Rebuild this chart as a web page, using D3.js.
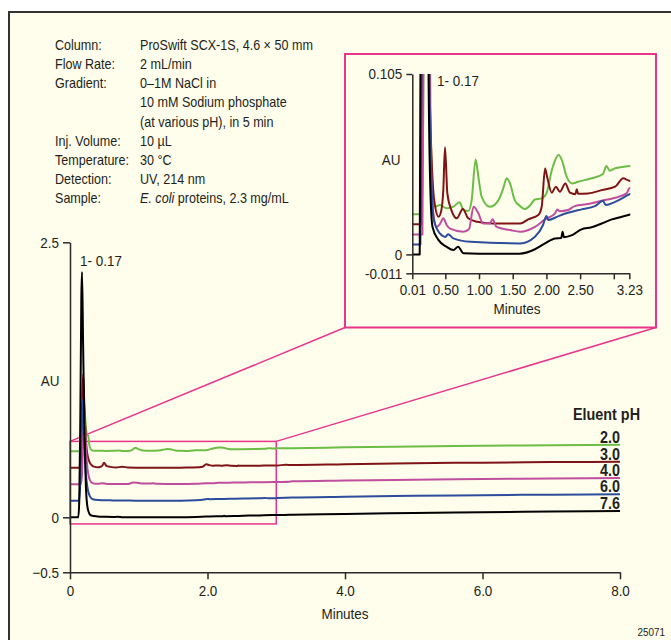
<!DOCTYPE html>
<html>
<head>
<meta charset="utf-8">
<script src="https://cdn.jsdelivr.net/npm/d3@7"></script>
<style>
  html, body { margin: 0; padding: 0; background: #ffffff; }
  svg { display: block; }
  text { font-family: "Liberation Sans", Arial, sans-serif; fill: #231f20; }
</style>
</head>
<body>
<svg id="chart" width="671" height="640"></svg>
<script>
// ---------------- DATA ----------------
const phLabels = ["2.0", "3.0", "4.0", "6.0", "7.6"];
const mainOffsets = [0.6, 0.45, 0.3, 0.15, 0];
const insetOffsets = [0.0233, 0.0175, 0.0116, 0.0057, 0];

// raw traces [minutes, AU] (before stacking offset)
const ph20 = [[0,0],[0.15,0],[0.17,0.05],[0.19,0.2],[0.21,0.38],[0.23,0.22],[0.25,0.15],[0.265,0.14],[0.28,0.06],[0.3,0.02],[0.32,0.008],[0.35,0.0044],[0.42,0.0054],[0.52,0.0035],[0.62,0.0045],[0.71,0.007],[0.77,0.0025],[0.84,0.002],[0.89,0.008],[0.95,0.032],[0.99,0.0219],[1.04,0.0102],[1.16,0.0044],[1.29,0.0083],[1.36,0.0151],[1.41,0.021],[1.46,0.018],[1.53,0.0083],[1.61,0.0048],[1.68,0.0031],[1.76,0.0054],[1.83,0.0087],[1.93,0.0093],[2.0,0.0122],[2.08,0.0257],[2.13,0.0316],[2.18,0.0345],[2.23,0.0316],[2.3,0.0219],[2.38,0.018],[2.47,0.019],[2.67,0.021],[2.84,0.0235],[2.89,0.0281],[2.94,0.0254],[3.02,0.0268],[3.23,0.0281],[4,0.036],[5,0.044],[6,0.05],[7,0.055],[8,0.059]];
const ph30 = [[0,0],[0.145,0],[0.16,0.1],[0.175,0.5],[0.19,0.85],[0.21,0.55],[0.235,0.22],[0.26,0.1],[0.29,0.045],[0.32,0.02],[0.35,0.0102],[0.40,0.0044],[0.44,0.008],[0.47,0.02],[0.495,0.0448],[0.53,0.018],[0.59,0.0083],[0.67,0.0035],[0.76,0.0089],[0.84,0.0035],[0.97,0.0015],[1.21,0.0005],[1.61,0.0005],[1.73,0.0029],[1.88,0.0054],[1.93,0.0102],[1.98,0.0325],[2.01,0.0277],[2.08,0.0184],[2.14,0.0219],[2.2,0.019],[2.28,0.0238],[2.35,0.0184],[2.43,0.0175],[2.45,0.0204],[2.47,0.0178],[2.62,0.018],[2.82,0.0199],[3.02,0.0219],[3.14,0.0268],[3.23,0.0254],[4,0.033],[5,0.041],[6,0.047],[7,0.052],[8,0.055]];
const ph40 = [[0,0],[0.16,0],[0.175,0.1],[0.19,0.45],[0.205,0.75],[0.22,0.5],[0.245,0.2],[0.27,0.08],[0.3,0.025],[0.33,0.01],[0.37,0.0044],[0.42,0.006],[0.47,0.0094],[0.52,0.0055],[0.57,0.0034],[0.77,0.0016],[0.85,0.003],[0.92,0.0161],[0.99,0.0123],[1.06,0.0064],[1.16,0.0064],[1.2,0.0088],[1.26,0.0044],[1.46,0.0026],[1.61,0.0016],[1.83,0.0044],[1.98,0.0088],[2.13,0.0123],[2.16,0.0146],[2.2,0.0135],[2.32,0.0142],[2.42,0.0165],[2.62,0.0177],[2.82,0.0196],[3.02,0.0214],[3.19,0.0239],[3.23,0.0268],[4,0.034],[5,0.042],[6,0.048],[7,0.053],[8,0.057]];
const ph60 = [[0,0],[0.13,0],[0.145,0.1],[0.16,0.5],[0.18,0.92],[0.2,0.6],[0.23,0.25],[0.26,0.1],[0.29,0.04],[0.33,0.0143],[0.42,0.0065],[0.5,0.0045],[0.54,0.006],[0.62,0.0036],[0.87,0.0016],[1.61,0.0007],[1.83,0.0046],[1.95,0.0114],[2.0,0.0166],[2.03,0.0143],[2.18,0.0166],[2.32,0.0185],[2.52,0.0205],[2.72,0.0224],[2.84,0.0255],[2.88,0.023],[3.02,0.0249],[3.23,0.0292],[4,0.037],[5,0.045],[6,0.051],[7,0.056],[8,0.06]];
const ph76 = [[0,0],[0.12,0],[0.135,0.15],[0.15,0.9],[0.165,2.0],[0.175,2.23],[0.19,1.6],[0.21,0.8],[0.23,0.3],[0.25,0.11],[0.28,0.035],[0.31,0.016],[0.40,0.0083],[0.52,0.0044],[0.62,0.0025],[0.69,0.0045],[0.77,0.0006],[1.0,0.0004],[1.6,0.0004],[1.83,0.003],[1.98,0.0064],[2.13,0.0093],[2.22,0.0095],[2.24,0.0132],[2.26,0.0100],[2.38,0.0112],[2.52,0.0146],[2.67,0.0158],[2.82,0.018],[2.97,0.0204],[3.12,0.0219],[3.23,0.0231],[4,0.031],[5,0.039],[6,0.046],[7,0.052],[8,0.057]];
const seriesData = [ph20, ph30, ph40, ph60, ph76];

const mainXTicks = [0, 2, 4, 6, 8];
const mainXTickLabels = ["0", "2.0", "4.0", "6.0", "8.0"];
const mainYTicks = [2.5, 0, -0.5];
const mainYTickLabels = ["2.5", "0", "\u22120.5"];
const insetXTicks = [0.01, 0.5, 1, 1.5, 2, 2.5, 3, 3.23];
const insetXTickLabels = ["0.01", "0.50", "1.00", "1.50", "2.00", "2.50", "", "3.23"];
const insetYTicks = [0.105, 0, -0.011];
const insetYTickLabels = ["0.105", "0", "-0.011"];
const zoomBox = { t0: 0, t1: 3.0, y0: -0.06, y1: 0.69 };

const conditionLabels = ["Column:", "Flow Rate:", "Gradient:", "", "", "Inj. Volume:", "Temperature:", "Detection:", "Sample:"];
const conditionValues = ["ProSwift SCX-1S, 4.6 \u00d7 50 mm", "2 mL/min", "0\u20131M NaCl in", "10 mM Sodium phosphate", "(at various pH), in 5 min", "10 \u00b5L", "30 \u00b0C", "UV, 214 nm", "E. coli|proteins,  2.3 mg/mL"];

// ---------------- STYLE ----------------
const colors = ["#6cbd45", "#7f1418", "#bf4f9e", "#2d4c9c", "#000000"];
const pink = "#e8358c";
const axisColor = "#2b2b2b";
const bg = "#fffdeb";

const svg = d3.select("#chart");

// condensed factor: fit reference width of the first condition line (≈173px at 14px)
const probe = svg.append("text").attr("font-size", 14).text(conditionValues[0]);
const K = Math.min(1, 173 / probe.node().getComputedTextLength());
probe.remove();

function label(parent, x, y, str, size, anchor, weight) {
  return parent.append("text")
    .attr("transform", `translate(${x},${y}) scale(${K},1)`)
    .attr("font-size", size).attr("text-anchor", anchor || "start")
    .attr("font-weight", weight || "normal").text(str);
}
function condenseAxis(g, size) {
  g.selectAll("path,line").attr("stroke", axisColor).attr("stroke-width", 1.5);
  g.selectAll("text").each(function () {
    const t = d3.select(this);
    const x = +t.attr("x") || 0;
    t.attr("x", x / K).attr("transform", `scale(${K},1)`);
  }).attr("font-size", size).attr("font-family", null).style("fill", "#231f20");
}

// background panel with border
svg.append("rect").attr("x", 9).attr("y", 12).attr("width", 662).attr("height", 628).attr("fill", bg);
svg.append("path").attr("d", "M9,640 V12 H671").attr("fill", "none").attr("stroke", "#333").attr("stroke-width", 2);

// ---------------- CONDITIONS TEXT ----------------
const cond = svg.append("g");
conditionLabels.forEach((l, i) => {
  const y = 50 + i * 19.15;
  label(cond, 55, y, l, 14);
  const v = conditionValues[i];
  if (v.includes("|")) {
    const [a, b] = v.split("|");
    const t = label(cond, 140, y, "", 14);
    t.append("tspan").attr("font-style", "italic").text(a);
    t.append("tspan").text(" " + b);
  } else label(cond, 140, y, v, 14);
});

// ---------------- MAIN CHART ----------------
const mx = d3.scaleLinear().domain([0, 8]).range([70, 620]);
const my = d3.scaleLinear().domain([-0.5, 2.5]).range([572.3, 242.3]);

// zoom box
svg.append("rect")
  .attr("x", mx(zoomBox.t0)).attr("y", my(zoomBox.y1))
  .attr("width", mx(zoomBox.t1) - mx(zoomBox.t0))
  .attr("height", my(zoomBox.y0) - my(zoomBox.y1))
  .attr("fill", "none").attr("stroke", pink).attr("stroke-width", 1.5);

// inset frame geometry
const inset = { x: 345, y: 54, w: 311, h: 273.5 };
svg.append("line").attr("x1", mx(zoomBox.t0)).attr("y1", my(zoomBox.y1))
  .attr("x2", inset.x).attr("y2", inset.y + inset.h).attr("stroke", pink).attr("stroke-width", 1.5);
svg.append("line").attr("x1", mx(zoomBox.t1)).attr("y1", my(zoomBox.y1))
  .attr("x2", inset.x + inset.w).attr("y2", inset.y + inset.h).attr("stroke", pink).attr("stroke-width", 1.5);

const mainLine = (off) => d3.line().x(d => mx(d[0])).y(d => my(d[1] + off)).curve(d3.curveMonotoneX);
seriesData.forEach((s, i) => {
  svg.append("path").attr("d", mainLine(mainOffsets[i])(s))
    .attr("fill", "none").attr("stroke", colors[i]).attr("stroke-width", 2).attr("stroke-linejoin", "round");
});

// main axes
const mAxY = svg.append("g").attr("transform", `translate(${mx(0)},0)`)
  .call(d3.axisLeft(my).tickValues(mainYTicks).tickFormat((d, i) => mainYTickLabels[i]).tickSize(7).tickSizeOuter(0).tickPadding(4));
const mAxX = svg.append("g").attr("transform", `translate(0,${my(-0.5)})`)
  .call(d3.axisBottom(mx).tickValues(mainXTicks).tickFormat((d, i) => mainXTickLabels[i]).tickSize(7).tickSizeOuter(0).tickPadding(6));
condenseAxis(mAxY, 15);
condenseAxis(mAxX, 15);
label(svg, 50, 386, "AU", 15, "middle");
label(svg, mx(4), 619, "Minutes", 15, "middle");
label(svg, 80, 266, "1- 0.17", 15);
label(svg, 665, 636, "25071", 11, "end");

// legend labels at right end of traces
label(svg, 640, 420, "Eluent pH", 16, "end", "bold");
seriesData.forEach((s, i) => {
  const last = s[s.length - 1];
  label(svg, mx(last[0]), my(last[1] + mainOffsets[i]) - 2, phLabels[i], 16, "end", "bold");
});

// ---------------- INSET ----------------
svg.append("rect").attr("x", inset.x).attr("y", inset.y).attr("width", inset.w).attr("height", inset.h)
  .attr("fill", bg).attr("stroke", pink).attr("stroke-width", 2);

const ix = d3.scaleLinear().domain([0.01, 3.23]).range([412.3, 629.3]);
const iy = d3.scaleLinear().domain([-0.011, 0.105]).range([273.3, 74]);

svg.append("clipPath").attr("id", "insetClip").append("rect")
  .attr("x", ix(0.01)).attr("y", iy(0.105)).attr("width", ix(3.23) - ix(0.01) + 1).attr("height", iy(-0.011) - iy(0.105));

const insetG = svg.append("g").attr("clip-path", "url(#insetClip)");
const insetLine = (off) => d3.line().x(d => ix(d[0])).y(d => iy(d[1] + off)).curve(d3.curveMonotoneX);
seriesData.forEach((s, i) => {
  insetG.append("path").attr("d", insetLine(insetOffsets[i])(s.filter(d => d[0] <= 4)))
    .attr("fill", "none").attr("stroke", colors[i]).attr("stroke-width", 2).attr("stroke-linejoin", "round");
});

const iAxY = svg.append("g").attr("transform", `translate(${ix(0.01)},0)`)
  .call(d3.axisLeft(iy).tickValues(insetYTicks).tickFormat((d, i) => insetYTickLabels[i]).tickSize(6).tickSizeOuter(0).tickPadding(4));
const iAxX = svg.append("g").attr("transform", `translate(0,${iy(-0.011)})`)
  .call(d3.axisBottom(ix).tickValues(insetXTicks).tickFormat((d, i) => insetXTickLabels[i]).tickSize(6).tickSizeOuter(0).tickPadding(5));
condenseAxis(iAxY, 15);
condenseAxis(iAxX, 15);
label(svg, 391, 165, "AU", 15, "middle");
label(svg, 517, 314, "Minutes", 15, "middle");
label(svg, 437, 86, "1- 0.17", 15);
</script>
</body>
</html>
